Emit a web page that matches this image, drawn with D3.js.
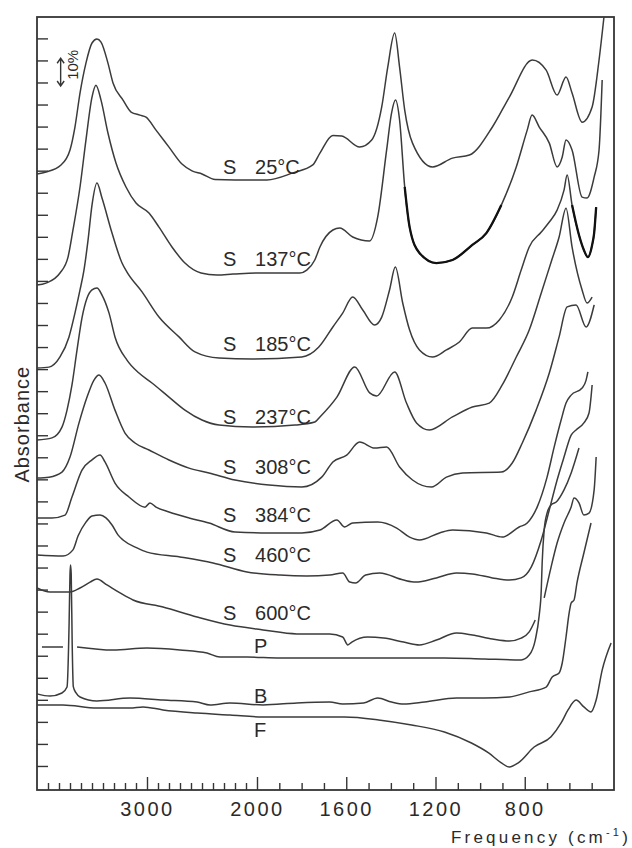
<!DOCTYPE html>
<html><head><meta charset="utf-8">
<script src="https://cdn.jsdelivr.net/npm/d3@7"></script>
<style>
html,body{margin:0;padding:0;background:#fff;}
svg text{font-family:"Liberation Sans", Arial, sans-serif; fill:#2a2a2a;}
</style></head>
<body><svg id="chart" width="632" height="848"></svg>
<script>
// ---- data: [wavenumber (cm-1), absorbance offset (tick units)] ----
const s25 = [[4000,26.85],[3918,26.94],[3782,27.26],[3700,27.94],[3655,28.98],[3609,30.52],[3555,31.88],[3500,32.79],[3455,32.97],[3418,32.83],[3355,31.88],[3309,30.98],[3218,30.2],[3145,29.66],[3064,29.52],[3009,29.43],[2918,28.84],[2800,28.07],[2682,27.3],[2591,26.99],[2500,26.85],[2382,26.6],[2200,26.58],[2000,26.58],[1955,26.58],[1839,26.9],[1750,27.26],[1718,27.8],[1660,28.6],[1620,28.57],[1540,28.07],[1486,28.39],[1441,29.89],[1414,31.7],[1383,33.24],[1361,31.7],[1338,29.75],[1303,28.25],[1213,27.17],[1124,27.57],[1048,27.71],[945,28.98],[869,30.34],[766,32.02],[704,31.56],[655,30.43],[615,31.25],[588,30.52],[543,29.2],[498,29.89],[467,32.02],[445,33.97]];
const s137 = [[4000,21.81],[3918,21.9],[3791,22.36],[3718,23.08],[3673,24.31],[3609,26.26],[3555,28.39],[3500,30.34],[3464,30.88],[3418,30.2],[3355,28.71],[3282,27.35],[3191,26.26],[3100,25.53],[2982,25.08],[2891,24.44],[2773,23.54],[2655,22.81],[2509,22.36],[2364,22.27],[2218,22.31],[1987,22.36],[1808,22.36],[1777,22.49],[1741,22.95],[1718,23.54],[1660,24.31],[1629,24.4],[1571,23.99],[1495,23.81],[1459,24.9],[1419,27.94],[1397,29.61],[1379,30.2],[1361,29.3],[1338,26.26],[1316,24.44],[1272,23.27],[1196,22.81],[1124,22.95],[1035,23.63],[972,24.17],[905,25.44],[838,27.17],[789,28.84],[767,29.52],[735,28.98],[690,28.25],[655,27.17],[632,27.62],[615,28.39],[588,27.94],[543,25.8],[521,25.76],[489,26.71],[467,27.94],[453,31.11]];
const s185 = [[4000,18.05],[3891,18.09],[3791,18.55],[3709,19.46],[3655,20.54],[3609,21.59],[3573,22.49],[3536,23.85],[3500,25.44],[3455,26.44],[3409,25.76],[3318,24.17],[3227,22.81],[3182,22.4],[3045,21.5],[2891,20.36],[2709,19.46],[2564,18.78],[2345,18.5],[2045,18.46],[1799,18.55],[1723,19.0],[1660,19.91],[1616,20.54],[1571,21.27],[1526,20.68],[1473,20.0],[1441,20.36],[1406,21.59],[1380,22.63],[1347,21.0],[1316,19.77],[1272,18.87],[1213,18.55],[1151,18.87],[1093,19.23],[1035,19.86],[972,19.86],[914,20.23],[856,21.27],[816,22.49],[780,23.54],[726,24.22],[690,24.67],[655,25.21],[624,26.12],[610,26.8],[588,25.44],[557,24.08],[535,23.4],[517,23.08],[498,23.63],[489,24.17],[480,25.35]];
const s237 = [[4000,14.78],[3864,14.88],[3773,15.37],[3727,16.14],[3682,17.28],[3636,18.87],[3591,20.32],[3545,21.22],[3500,21.59],[3455,21.68],[3409,21.36],[3345,20.54],[3291,19.46],[3182,18.41],[3073,17.82],[2955,17.37],[2800,16.73],[2655,16.14],[2500,15.69],[2345,15.46],[2045,15.37],[1830,15.46],[1741,15.6],[1718,15.83],[1642,16.73],[1562,18.1],[1495,16.92],[1464,16.78],[1383,17.87],[1330,16.46],[1285,15.56],[1227,15.24],[1124,15.83],[1035,16.28],[959,16.46],[901,17.28],[838,18.55],[780,19.77],[726,21.45],[682,22.85],[646,23.99],[615,25.3],[588,23.54],[543,21.59],[521,21.0],[498,21.27]];
const s308 = [[4000,13.06],[3891,13.1],[3773,13.33],[3700,14.01],[3618,15.56],[3545,16.73],[3482,17.5],[3436,17.73],[3382,17.37],[3291,16.14],[3200,15.1],[3109,14.65],[2982,14.33],[2800,13.88],[2618,13.51],[2436,13.29],[2200,12.97],[1946,12.74],[1799,12.65],[1710,13.1],[1660,13.79],[1598,14.1],[1540,14.69],[1473,14.42],[1419,14.47],[1361,13.56],[1303,12.97],[1218,12.65],[1151,13.1],[1079,13.29],[905,13.33],[856,13.74],[811,14.65],[749,16.14],[690,17.82],[646,19.46],[610,20.82],[570,20.91],[525,19.91],[489,20.91]];
const s384 = [[4000,11.25],[3864,11.25],[3745,11.38],[3682,12.2],[3591,13.42],[3500,13.88],[3427,14.1],[3382,13.79],[3291,12.83],[3164,12.2],[3018,11.74],[2973,11.93],[2918,11.74],[2800,11.52],[2618,11.25],[2436,11.02],[2200,10.61],[1946,10.57],[1799,10.57],[1718,10.7],[1642,11.16],[1607,10.84],[1571,11.02],[1459,11.06],[1374,10.79],[1316,10.38],[1272,10.25],[1182,10.57],[1124,10.7],[972,10.57],[901,10.38],[825,10.84],[789,11.02],[744,11.75],[700,13.1],[668,14.47],[637,15.69],[615,16.46],[592,16.82],[543,17.14],[525,17.5],[517,17.87]];
const s460 = [[4000,9.57],[3764,9.52],[3673,9.8],[3627,10.43],[3555,11.06],[3500,11.34],[3427,11.38],[3373,11.25],[3318,10.93],[3264,10.48],[3218,10.25],[3091,9.89],[3000,9.7],[2700,9.48],[2400,9.21],[2091,8.8],[1897,8.66],[1777,8.62],[1674,8.66],[1616,8.75],[1584,8.34],[1558,8.3],[1513,8.66],[1450,8.75],[1343,8.43],[1289,8.34],[1196,8.53],[1106,8.75],[1035,8.71],[945,8.53],[869,8.43],[816,8.53],[771,9.02],[726,10.25],[682,11.93],[655,12.97],[624,14.01],[592,15.01],[570,15.24],[535,15.56],[512,16.01],[498,17.28]];
const s600 = [[4000,8.07],[3882,7.89],[3700,7.89],[3609,8.07],[3518,8.34],[3455,8.48],[3364,8.21],[3245,7.85],[3127,7.53],[2855,7.21],[2545,6.76],[2245,6.39],[1973,6.17],[1821,5.99],[1674,5.99],[1616,5.85],[1593,5.49],[1575,5.62],[1504,5.85],[1432,5.8],[1343,5.62],[1272,5.49],[1196,5.71],[1106,6.03],[1035,5.94],[945,5.76],[869,5.67],[816,5.8],[780,6.08],[753,6.62],[748,null],[713,7.62],[682,9.02],[655,10.11],[624,11.02],[592,11.75],[579,12.15],[557,11.93],[535,11.38],[512,11.47],[489,12.52],[480,14.01]];
const pCurve = [[3955,5.4],[3764,5.4],[3700,null],[3636,5.4],[3309,5.26],[3000,5.35],[2700,5.26],[2455,5.12],[2336,4.94],[2091,4.94],[1897,4.9],[1674,4.9],[1343,4.9],[1160,4.9],[981,4.85],[816,4.81],[780,5.03],[753,5.71],[735,6.85],[726,7.98],[722,9.21],[713,10.7],[700,11.47],[682,11.84],[659,11.97],[624,12.52],[592,13.29],[557,14.42]];
const bCurve = [[4000,3.27],[3882,3.17],[3773,3.31],[3727,3.58],[3708,6.5],[3700,8.7],[3695,9.12],[3689,8.7],[3680,5.5],[3670,3.6],[3645,3.31],[3609,3.13],[3455,2.95],[3155,3.08],[2855,2.99],[2545,2.9],[2427,2.77],[2245,2.86],[1973,2.77],[1821,2.86],[1674,2.9],[1616,2.81],[1522,2.86],[1459,3.08],[1397,2.9],[1343,2.81],[1249,2.9],[1106,3.08],[981,3.08],[869,3.13],[780,3.36],[704,3.58],[677,4.04],[646,4.22],[632,4.67],[615,5.85],[601,6.94],[592,7.39],[579,7.53],[566,8.3],[535,9.66],[503,11.02]];
const fCurve = [[4000,2.77],[3764,2.77],[3455,2.63],[3155,2.63],[3036,2.68],[2855,2.54],[2545,2.4],[2245,2.31],[1973,2.22],[1821,2.22],[1718,2.22],[1607,2.22],[1455,2.09],[1307,1.86],[1160,1.54],[1039,1.04],[962,0.59],[905,0.14],[869,-0.05],[829,0.14],[758,0.86],[682,1.32],[637,1.95],[606,2.54],[570,2.99],[535,2.68],[503,2.45],[480,2.99],[453,4.35],[413,5.58]];

const sampleCodes = ["S","S","S","S","S","S","S","S","P","B","F"];
const temperatures = ["25°C","137°C","185°C","237°C","308°C","384°C","460°C","600°C",null,null,null];
const majorTicks = [3000, 2000, 1600, 1200, 800];
const xAxisTitle = "Frequency (cm";
const yAxisTitle = "Absorbance";
const scaleBarLabel = "10%";

// ---- layout (positions in data space) ----
const series = [s25, s137, s185, s237, s308, s384, s460, s600, pCurve, bCurve, fCurve];
const labelLevels = [26.85, 22.68, 18.82, 15.51, 13.24, 11.07, 9.25, 6.62, 5.12, 2.86, 1.32];
const boldParts = [{i:1, from:1340, to:900}, {i:2, from:590, to:478}];

const svg = d3.select("#chart");
const x = d3.scaleLinear().domain([4000, 2000, 400]).range([37, 257, 614]);
const y = d3.scaleLinear().domain([-1.09, 33.97]).range([790, 17]);
const ink = "#353535";

// axes
const minor = d3.range(3900, 400, -100).filter(v => !majorTicks.includes(v));
const gx = svg.append("g").attr("transform", `translate(0,${y.range()[0]})`);
gx.call(d3.axisBottom(x).tickValues(minor).tickSize(-7).tickSizeOuter(0).tickFormat(""));
const gx2 = svg.append("g").attr("transform", `translate(0,${y.range()[0]})`);
gx2.call(d3.axisBottom(x).tickValues(majorTicks).tickSize(-13).tickSizeOuter(0).tickPadding(12).tickFormat(d3.format("d")));
gx2.selectAll("text").attr("font-size", 20).attr("font-family", "Liberation Sans, Arial, sans-serif").style("letter-spacing", "2.5px").attr("fill", "#2a2a2a");
const gy = svg.append("g").attr("transform", `translate(${x.range()[0]},0)`);
gy.call(d3.axisLeft(y).tickValues(d3.range(0, 34)).tickSize(-11).tickSizeOuter(0).tickFormat(""));
svg.selectAll(".domain").remove();
svg.selectAll(".tick line").attr("stroke", ink).attr("stroke-width", 1.4);

// frame
svg.append("rect")
  .attr("x", x.range()[0]).attr("y", y.range()[1])
  .attr("width", x.range()[2] - x.range()[0]).attr("height", y.range()[0] - y.range()[1])
  .attr("fill", "none").attr("stroke", ink).attr("stroke-width", 1.8);

// curves
const line = d3.line().defined(d => d[1] !== null)
  .x(d => x(d[0])).y(d => y(d[1])).curve(d3.curveMonotoneX);
svg.append("g").selectAll("path").data(series).join("path")
  .attr("d", line).attr("fill", "none").attr("stroke", "#3b3b3b")
  .attr("stroke-width", 1.5).attr("stroke-linejoin", "round");
svg.append("g").selectAll("path").data(boldParts).join("path")
  .attr("d", b => line(series[b.i].filter(d => d[0] <= b.from && d[0] >= b.to)))
  .attr("fill", "none").attr("stroke", "#111").attr("stroke-width", 2.3);

// labels
const lab = svg.append("g").attr("font-size", 20);
series.forEach((s, i) => {
  const isS = sampleCodes[i] === "S";
  lab.append("text").attr("x", x(isS ? 2310 : 2027)).attr("y", y(labelLevels[i])).text(sampleCodes[i]);
  if (temperatures[i]) lab.append("text").attr("x", x(2018)).attr("y", y(labelLevels[i])).text(temperatures[i]);
});

// scale bar 10%
const sbX = x(3785), sbTop = y(32.1), sbBot = y(30.84);
svg.append("path")
  .attr("d", `M${sbX},${sbTop}V${sbBot}M${sbX-3.5},${sbTop+5}L${sbX},${sbTop}L${sbX+3.5},${sbTop+5}M${sbX-3.5},${sbBot-5}L${sbX},${sbBot}L${sbX+3.5},${sbBot-5}`)
  .attr("fill", "none").attr("stroke", ink).attr("stroke-width", 1.4);
svg.append("text").attr("transform", `translate(${x(3630)},${y(31.8)}) rotate(-90)`)
  .attr("text-anchor", "middle").attr("font-size", 15).text(scaleBarLabel);

// axis titles
svg.append("text").attr("transform", `translate(29,${y(15.5)}) rotate(-90)`)
  .attr("text-anchor", "middle").attr("font-size", 20).style("letter-spacing", "1px").text(yAxisTitle);
const xt = svg.append("text").attr("x", 451).attr("y", 843).attr("font-size", 17).style("letter-spacing", "3.2px");
xt.append("tspan").text(xAxisTitle);
xt.append("tspan").attr("font-size", 11).attr("dy", -7).text("-1");
xt.append("tspan").attr("dy", 7).text(")");
</script>
</body></html>
